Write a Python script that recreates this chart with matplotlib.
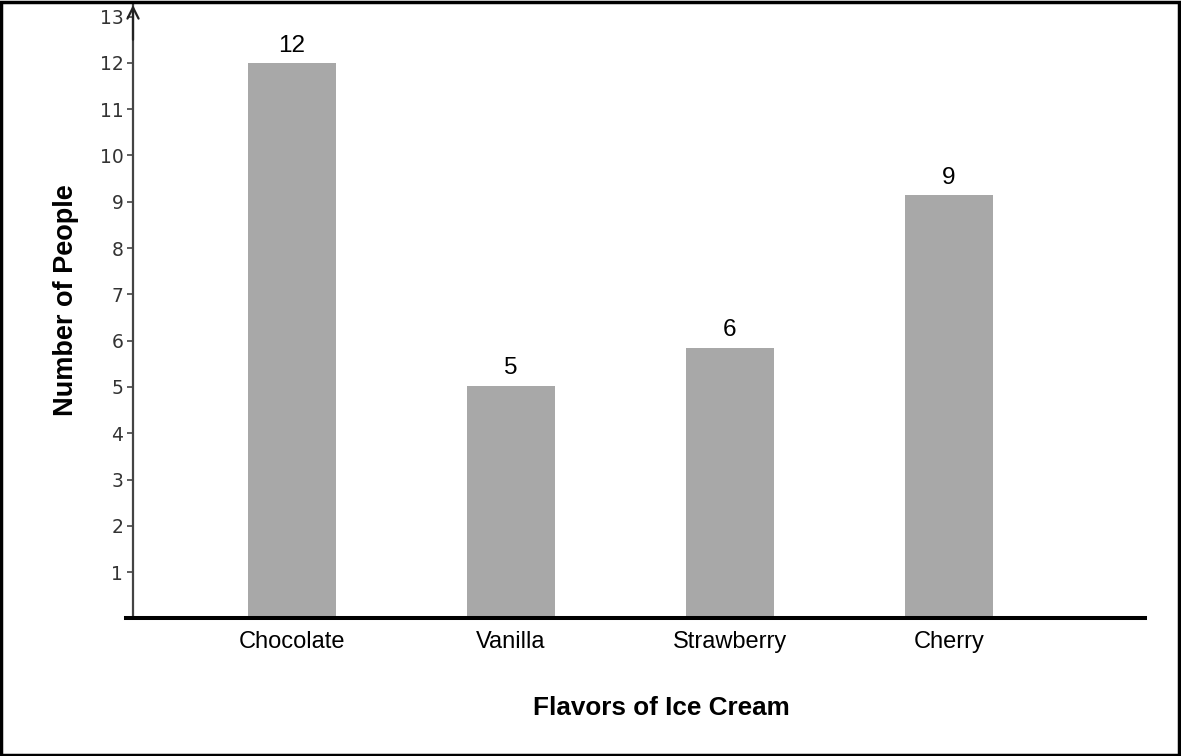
import matplotlib
matplotlib.use("Agg")
import matplotlib.pyplot as plt
from matplotlib.patches import Rectangle

flavors = ["Chocolate", "Vanilla", "Strawberry", "Cherry"]
heights = [12.0, 5.03, 5.85, 9.15]
value_labels = ["12", "5", "6", "9"]
y_ticks = list(range(1, 14))

W, H = 1181, 756
fig = plt.figure(figsize=(W / 100, H / 100), dpi=100)

L, R, B, T = 126, 1145, 618.4, 5
ax = fig.add_axes([L / W, 1 - B / H, (R - L) / W, (B - T) / H])

x = list(range(len(flavors)))
ax.bar(x, heights, width=0.4, color="#a8a8a8", zorder=2)

for xi, h, lab in zip(x, heights, value_labels):
    ax.annotate(lab, (xi, h), xytext=(0, 8), textcoords="offset points",
                ha="center", va="baseline", fontsize=17.5,
                family="Liberation Sans", color="black")

xleft = -0.758
xaxis_pos = -0.726
ax.set_xlim(xleft, 3.895)
ax.set_ylim(0, 13.25)

for s in ["top", "right"]:
    ax.spines[s].set_visible(False)
ax.spines["left"].set_position(("data", xaxis_pos))
ax.spines["left"].set_color("#444444")
ax.spines["left"].set_linewidth(1.6)
ax.spines["bottom"].set_color("black")
ax.spines["bottom"].set_linewidth(2.9)
ax.spines["bottom"].set_zorder(3)

ax.set_yticks(y_ticks)
ax.set_yticklabels([str(v) for v in y_ticks], fontsize=13.5, color="#333333",
                   family="DejaVu Sans")
ax.tick_params(axis="y", direction="out", length=4, width=1.2, color="#444444", pad=3)

ax.set_xticks(x)
ax.set_xticklabels(flavors, fontsize=17, family="Liberation Sans", color="black")
ax.tick_params(axis="x", length=0, pad=9)

# arrow at top of y-axis
ax.annotate("", xy=(xaxis_pos, 13.25), xytext=(xaxis_pos, 12.5),
            arrowprops=dict(arrowstyle="->", color="#222222", lw=1.6,
                            mutation_scale=20, shrinkA=0, shrinkB=0),
            annotation_clip=False)

ax.set_xlabel("Flavors of Ice Cream", fontsize=18.8, fontweight="bold",
              family="Liberation Sans")
ax.xaxis.set_label_coords((661 - L) / (R - L), (B - 708) / (B - T))
ax.xaxis.label.set_va("center")

ax.set_ylabel("Number of People", fontsize=19.5, fontweight="bold",
              family="Liberation Sans")
ax.yaxis.set_label_coords((66 - L) / (R - L), (B - 300) / (B - T))
ax.yaxis.label.set_va("center")

fig.patches.append(Rectangle((0.001, 0.001), 0.997, 0.997, transform=fig.transFigure,
                             fill=False, edgecolor="black", linewidth=2.5))

fig.savefig("out.png", dpi=100)
